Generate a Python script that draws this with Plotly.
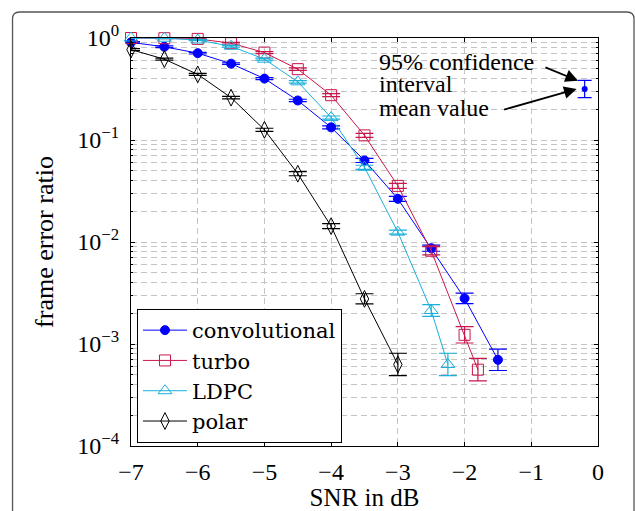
import plotly.graph_objects as go
import numpy as np

# ---- data ----
snr_conv = [-7, -6.5, -6, -5.5, -5, -4.5, -4, -3.5, -3, -2.5, -2, -1.5]
fer_conv = [0.906, 0.82, 0.71, 0.56, 0.40, 0.244, 0.133, 0.063, 0.0265, 0.0087, 0.0028, 0.0007]
ci_conv = [0.008, 0.008, 0.008, 0.008, 0.01, 0.012, 0.015, 0.02, 0.025, 0.03, 0.052, 0.105]

snr_turbo = [-7, -6.5, -6, -5.5, -5, -4.5, -4, -3.5, -3, -2.5, -2, -1.8]
fer_turbo = [1.0, 0.995, 0.98, 0.89, 0.72, 0.495, 0.275, 0.111, 0.0355, 0.0082, 0.00123, 0.00056]
ci_turbo = [0.005, 0.005, 0.006, 0.008, 0.01, 0.012, 0.015, 0.02, 0.025, 0.04, 0.08, 0.11]

snr_ldpc = [-7, -6.5, -6, -5.5, -5, -4.5, -4, -3.5, -3, -2.5, -2.25]
fer_ldpc = [1.0, 0.995, 0.955, 0.83, 0.62, 0.372, 0.166, 0.054, 0.0125, 0.00213, 0.00063]
ci_ldpc = [0.005, 0.005, 0.006, 0.008, 0.01, 0.012, 0.015, 0.02, 0.02, 0.057, 0.11]

snr_polar = [-7, -6.5, -6, -5.5, -5, -4.5, -4, -3.5, -3]
fer_polar = [0.77, 0.62, 0.44, 0.26, 0.126, 0.0467, 0.0143, 0.00277, 0.00063]
ci_polar = [0.01, 0.01, 0.01, 0.012, 0.015, 0.02, 0.025, 0.05, 0.11]

example_x = [-0.2]
example_y = [0.316]
example_ci = [0.085]

names = ["convolutional", "turbo", "LDPC", "polar"]
colors = ["#0000ff", "#c8174b", "#1ab0d9", "#000000"]
symbols = ["circle", "square-open", "triangle-up-open", "diamond-tall-open"]
msizes = [9, 11, 12, 12]

y_tickvals = [1e-4, 1e-3, 1e-2, 1e-1, 1]
y_ticktext = ["10<sup>−4</sup>", "10<sup>−3</sup>", "10<sup>−2</sup>", "10<sup>−1</sup>", "10<sup>0</sup>"]
x_tickvals = [-7, -6, -5, -4, -3, -2, -1, 0]
x_ticktext = ["−7", "−6", "−5", "−4", "−3", "−2", "−1", "0"]

note_lines = ["95% confidence", "interval", "mean value"]

FONT = "Liberation Serif"
FONT2 = "DejaVu Serif"


def err(y, d):
    y = np.array(y)
    d = np.array(d)
    return y * (10 ** d - 1), y * (1 - 10 ** (-d))


fig = go.Figure()
series = [(snr_conv, fer_conv, ci_conv), (snr_turbo, fer_turbo, ci_turbo),
          (snr_ldpc, fer_ldpc, ci_ldpc), (snr_polar, fer_polar, ci_polar)]
for (x, y, ci), nm, c, s, ms in zip(series, names, colors, symbols, msizes):
    up, dn = err(y, ci)
    fig.add_trace(go.Scatter(
        x=x, y=y, name=nm, mode="lines+markers", cliponaxis=False,
        line=dict(color=c, width=1),
        marker=dict(symbol=s, size=ms, color=c, line=dict(color=c, width=1)),
        error_y=dict(type="data", symmetric=False, array=up, arrayminus=dn,
                     color=c, thickness=1.2, width=9),
    ))

up, dn = err(example_y, example_ci)
fig.add_trace(go.Scatter(
    x=example_x, y=example_y, mode="markers", showlegend=False, cliponaxis=False,
    marker=dict(symbol="circle", size=6, color="#0000ff"),
    error_y=dict(type="data", symmetric=False, array=up, arrayminus=dn,
                 color="#0000ff", thickness=1.2, width=7),
))

# annotation text lines
for t, yy in zip(note_lines, [0.94, 0.888, 0.828]):
    fig.add_annotation(x=0.527, y=yy, xref="paper", yref="paper", xanchor="left", yanchor="middle",
                       text=t, showarrow=False, align="left",
                       font=dict(family=FONT, size=24, color="black"))
# arrows (y in log10 units on a log axis)
fig.add_annotation(x=-0.30, y=-0.419, ax=-34, ay=-14, showarrow=True, text="",
                   arrowhead=2, arrowsize=1.4, arrowwidth=1.8, arrowcolor="black", standoff=0)
fig.add_annotation(x=-0.32, y=-0.5, ax=-74, ay=21, showarrow=True, text="",
                   arrowhead=2, arrowsize=1.4, arrowwidth=1.8, arrowcolor="black", standoff=0)

# outer rounded frame
L, R, T, B = -0.2537, 1.0771, 1.0637, -0.19
dx, dy = 0.015, 0.0172
path = (f"M {L},{B} L {L},{T-dy} Q {L},{T} {L+dx},{T} L {R-dx},{T} "
        f"Q {R},{T} {R},{T-dy} L {R},{B}")
fig.add_shape(type="path", path=path, xref="paper", yref="paper",
              line=dict(color="#555555", width=1.3), layer="below")

grid = "#c4c4c4"
fig.update_layout(
    width=635, height=511,
    margin=dict(l=131, r=37, t=38, b=65),
    paper_bgcolor="white", plot_bgcolor="white",
    font=dict(family=FONT, size=24, color="black"),
    showlegend=True,
    legend=dict(x=0.0128, y=0.0074, xanchor="left", yanchor="bottom",
                bordercolor="black", borderwidth=1, bgcolor="white", itemwidth=44,
                font=dict(family=FONT2, size=21, color="black")),
    xaxis=dict(range=[-7, 0], tickvals=x_tickvals, ticktext=x_ticktext, automargin=False,
               tickfont=dict(family=FONT, size=24), ticklabelstandoff=4,
               showline=True, linecolor="black", linewidth=1.2, mirror="allticks",
               ticks="inside", ticklen=4, tickcolor="black",
               showgrid=True, gridcolor=grid, griddash="6px,4px", gridwidth=1,
               zeroline=False,
               title=dict(text="SNR in dB", standoff=12, font=dict(family=FONT, size=25))),
    yaxis=dict(type="log", range=[-4, 0], tickvals=y_tickvals, ticktext=y_ticktext, automargin=False,
               tickfont=dict(family=FONT, size=24), ticklabelstandoff=6,
               showline=True, linecolor="black", linewidth=1.2, mirror="allticks",
               ticks="inside", ticklen=4, tickcolor="black",
               showgrid=True, gridcolor=grid, griddash="6px,4px", gridwidth=1,
               minor=dict(dtick="D1", showgrid=True, gridcolor=grid, griddash="6px,4px",
                          ticks="inside", ticklen=2, tickcolor="black"),
               zeroline=False,
               title=dict(text="frame error ratio", standoff=16, font=dict(family=FONT, size=26))),
)

fig.write_html("out.html", config={"displayModeBar": False},
               post_script="document.body.style.margin='0px';document.body.style.overflow='hidden';")
